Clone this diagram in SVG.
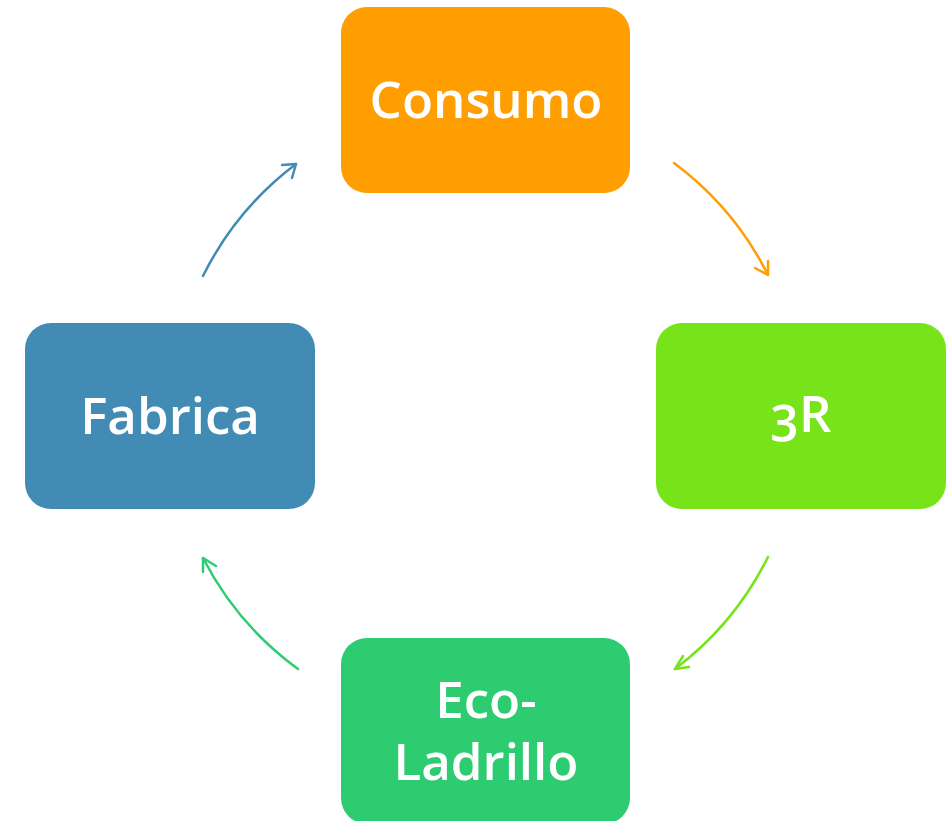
<svg xmlns="http://www.w3.org/2000/svg" width="952" height="821" viewBox="0 0 952 821">
<style>
.box{stroke:none}
.lbl{font-family:"Open Sans","Liberation Sans",sans-serif;font-weight:600;font-size:51px;fill:#ffffff;text-anchor:middle}
.arc{fill:none;stroke-width:2.5;stroke-linecap:round;stroke-linejoin:round}
</style>
<rect width="952" height="821" fill="#ffffff"/>
<g id="connectors">
<path class="arc" stroke="#428BB5" d="M203,276 A316,316 0 0 1 296,164"/>
<path class="arc" stroke="#428BB5" d="M282,165 L296,164 L292,178"/>
<path class="arc" stroke="#FF9E00" d="M674,163 A316,316 0 0 1 768,275"/>
<path class="arc" stroke="#FF9E00" d="M768,261 L768,275 L755,268"/>
<path class="arc" stroke="#77E319" d="M768,557 A316,316 0 0 1 675,669"/>
<path class="arc" stroke="#77E319" d="M683,656 L675,669 L689,667"/>
<path class="arc" stroke="#2ECC71" d="M298,669 A316,316 0 0 1 203,558"/>
<path class="arc" stroke="#2ECC71" d="M203,572 L203,558 L216,566"/>
</g>
<g id="consumo">
<rect class="box" x="341" y="7" width="289" height="186" rx="26" fill="#FF9E00"/>
<text class="lbl" x="486" y="118">Consumo</text>
</g>
<g id="tres-r">
<rect class="box" x="656" y="323" width="290" height="186" rx="26" fill="#77E319"/>
<text class="lbl" x="801" y="432" style="font-variant-numeric:oldstyle-nums">3R</text>
</g>
<g id="fabrica">
<rect class="box" x="25" y="323" width="290" height="186" rx="26" fill="#428BB5"/>
<text class="lbl" x="170" y="434">Fabrica</text>
</g>
<g id="eco-ladrillo">
<rect class="box" x="341" y="638" width="289" height="186" rx="26" fill="#2ECC71"/>
<text class="lbl" x="486" y="718">Eco-</text>
<text class="lbl" x="486" y="780">Ladrillo</text>
</g>
</svg>
